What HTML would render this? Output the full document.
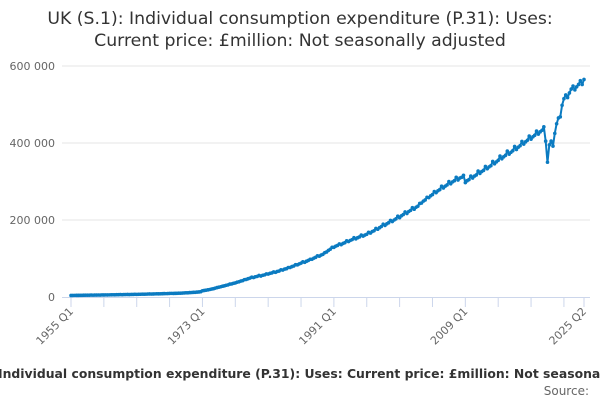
<!DOCTYPE html>
<html><head><meta charset="utf-8"><style>
html,body{margin:0;padding:0;background:#fff;width:600px;height:400px;overflow:hidden;font-family:"Liberation Sans","DejaVu Sans",sans-serif}
svg{display:block}
</style></head><body>
<svg id="chart" width="600" height="400" xmlns="http://www.w3.org/2000/svg">
<text x="300" y="24" text-anchor="middle" font-size="17.3" fill="#333" font-family="DejaVu Sans, sans-serif">UK (S.1): Individual consumption expenditure (P.31): Uses:</text>
<text x="300" y="46" text-anchor="middle" font-size="17.3" fill="#333" font-family="DejaVu Sans, sans-serif">Current price: £million: Not seasonally adjusted</text>
<g id="grid"></g><g id="yaxis"></g><g id="xaxis"></g><g id="series"></g>
<text x="-2" y="378" font-size="12.4" font-weight="bold" fill="#333" font-family="DejaVu Sans, sans-serif">Individual consumption expenditure (P.31): Uses: Current price: £million: Not seasonally adjusted</text>
<text x="589" y="395" text-anchor="end" font-size="12" fill="#666" font-family="DejaVu Sans, sans-serif">Source:</text>
</svg>
<script>
const startYear = 1955;
const yTicks = [0, 200000, 400000, 600000];
const yTickLabels = ["0", "200 000", "400 000", "600 000"];
const xTickIdx = [0, 72, 144, 216, 281];
const xTickLabels = ["1955 Q1", "1973 Q1", "1991 Q1", "2009 Q1", "2025 Q2"];
const values = [
4000,4100,4200,4350, 4300,4450,4500,4650, 4600,4750,4800,4950, 4850,4950,5050,5200,
5100,5250,5350,5500, 5400,5550,5650,5850, 5750,5900,6000,6250, 6050,6250,6350,6550,
6450,6600,6750,6950, 6850,7050,7150,7400, 7300,7500,7650,7900, 7700,7950,8050,8300,
8200,8400,8550,8850, 8750,9000,9150,9400, 9300,9550,9700,10000, 10000,10300,10500,10900,
11000,11400,11700,12100, 12300,12700,13100,13700, 16200,17000,17700,18600, 19500,20500,21500,23000,
24500,25500,26500,28000, 29000,30500,31500,33500, 34000,35500,36500,38500, 39500,41500,42500,45000,
45500,47500,49000,51500, 50500,52500,53500,56000, 54500,56500,57500,60000, 59500,61500,62500,65000,
64000,66500,67500,70500, 70000,72500,73500,76500, 76500,79000,80500,84000, 83500,86000,88000,91500,
90000,93000,95000,98000, 98000,101000,103000,107000, 106000,109000,111000,115000, 117000,121000,124000,129000,
129000,132000,134000,138000, 136000,139000,141000,146000, 144000,147000,149000,154000, 151000,154000,156000,161000,
158000,161000,163000,168000, 166000,170000,172000,178000, 176000,180000,183000,189000, 186000,190000,193000,199000,
196000,200000,203000,210000, 206000,211000,214000,221000, 217000,222000,225000,232000, 228000,233000,236000,243000,
244000,249000,252000,259000, 258000,263000,266000,274000, 271000,276000,279000,288000, 283000,288000,291000,300000,
294000,299000,302000,311000, 304000,309000,311000,316000, 297000,302000,305000,314000, 309000,314000,317000,327000,
321000,326000,329000,339000, 333000,338000,341000,352000, 346000,351000,355000,366000, 359000,364000,368000,379000,
371000,376000,380000,391000, 383000,389000,393000,404000, 397000,403000,407000,418000, 410000,416000,420000,431000,
423000,429000,433000,442000, 405000,350000,395000,405000, 392000,425000,450000,465000, 468000,498000,515000,525000,
518000,530000,540000,548000, 538000,546000,552000,562000, 552000,565000
];
const NS="http://www.w3.org/2000/svg";
const x0=71, x1=584, y0=297, yTop=66;
const n=values.length;
function xs(i){return x0+(x1-x0)*i/(n-1);}
function ys(v){return y0-(y0-yTop)*v/600000;}
function mk(tag,attrs,parent){const e=document.createElementNS(NS,tag);for(const k in attrs)e.setAttribute(k,attrs[k]);parent.appendChild(e);return e;}
const grid=document.getElementById('grid'),ya=document.getElementById('yaxis'),xa=document.getElementById('xaxis'),se=document.getElementById('series');
yTicks.forEach((t,i)=>{
  if(t>0){const g=mk('line',{x1:62,x2:590,y1:ys(t),y2:ys(t),stroke:'#e6e6e6','stroke-width':1},grid);
  
  }
  const l=mk('text',{x:55,y:ys(t)+4,'text-anchor':'end','font-size':11,fill:'#666','font-family':'DejaVu Sans, sans-serif'},ya);
  l.textContent=yTickLabels[i];
  
  
});
const ax=mk('line',{x1:62,x2:590,y1:y0+0.5,y2:y0+0.5,stroke:'#ccd6eb','stroke-width':1},xa);


for(let i=0;i<n;i+=18){
  const t=mk('line',{x1:xs(i),x2:xs(i),y1:y0,y2:y0+10,stroke:'#ccd6eb','stroke-width':1},xa);
  
  
}
const tl=mk('line',{x1:xs(n-1),x2:xs(n-1),y1:y0,y2:y0+10,stroke:'#ccd6eb','stroke-width':1},xa);


xTickIdx.forEach((idx,i)=>{
  const x=xs(idx),y=y0+15;
  const l=mk('text',{x:x+3,y:y,'text-anchor':'end','font-size':11,fill:'#666','font-family':'DejaVu Sans, sans-serif',transform:`rotate(-45 ${x+3} ${y})`},xa);
  l.textContent=xTickLabels[i];
  
  
});
let d='';
values.forEach((v,i)=>{d+=(i?'L':'M')+xs(i).toFixed(2)+' '+ys(v).toFixed(2);});
const p=mk('path',{d:d,fill:'none',stroke:'#0b7bc1','stroke-width':2,'stroke-linejoin':'round'},se);


values.forEach((v,i)=>{
  const c=mk('circle',{cx:xs(i),cy:ys(v),r:1.8,fill:'#0b7bc1'},se);
  
  
});
</script>
</body></html>
